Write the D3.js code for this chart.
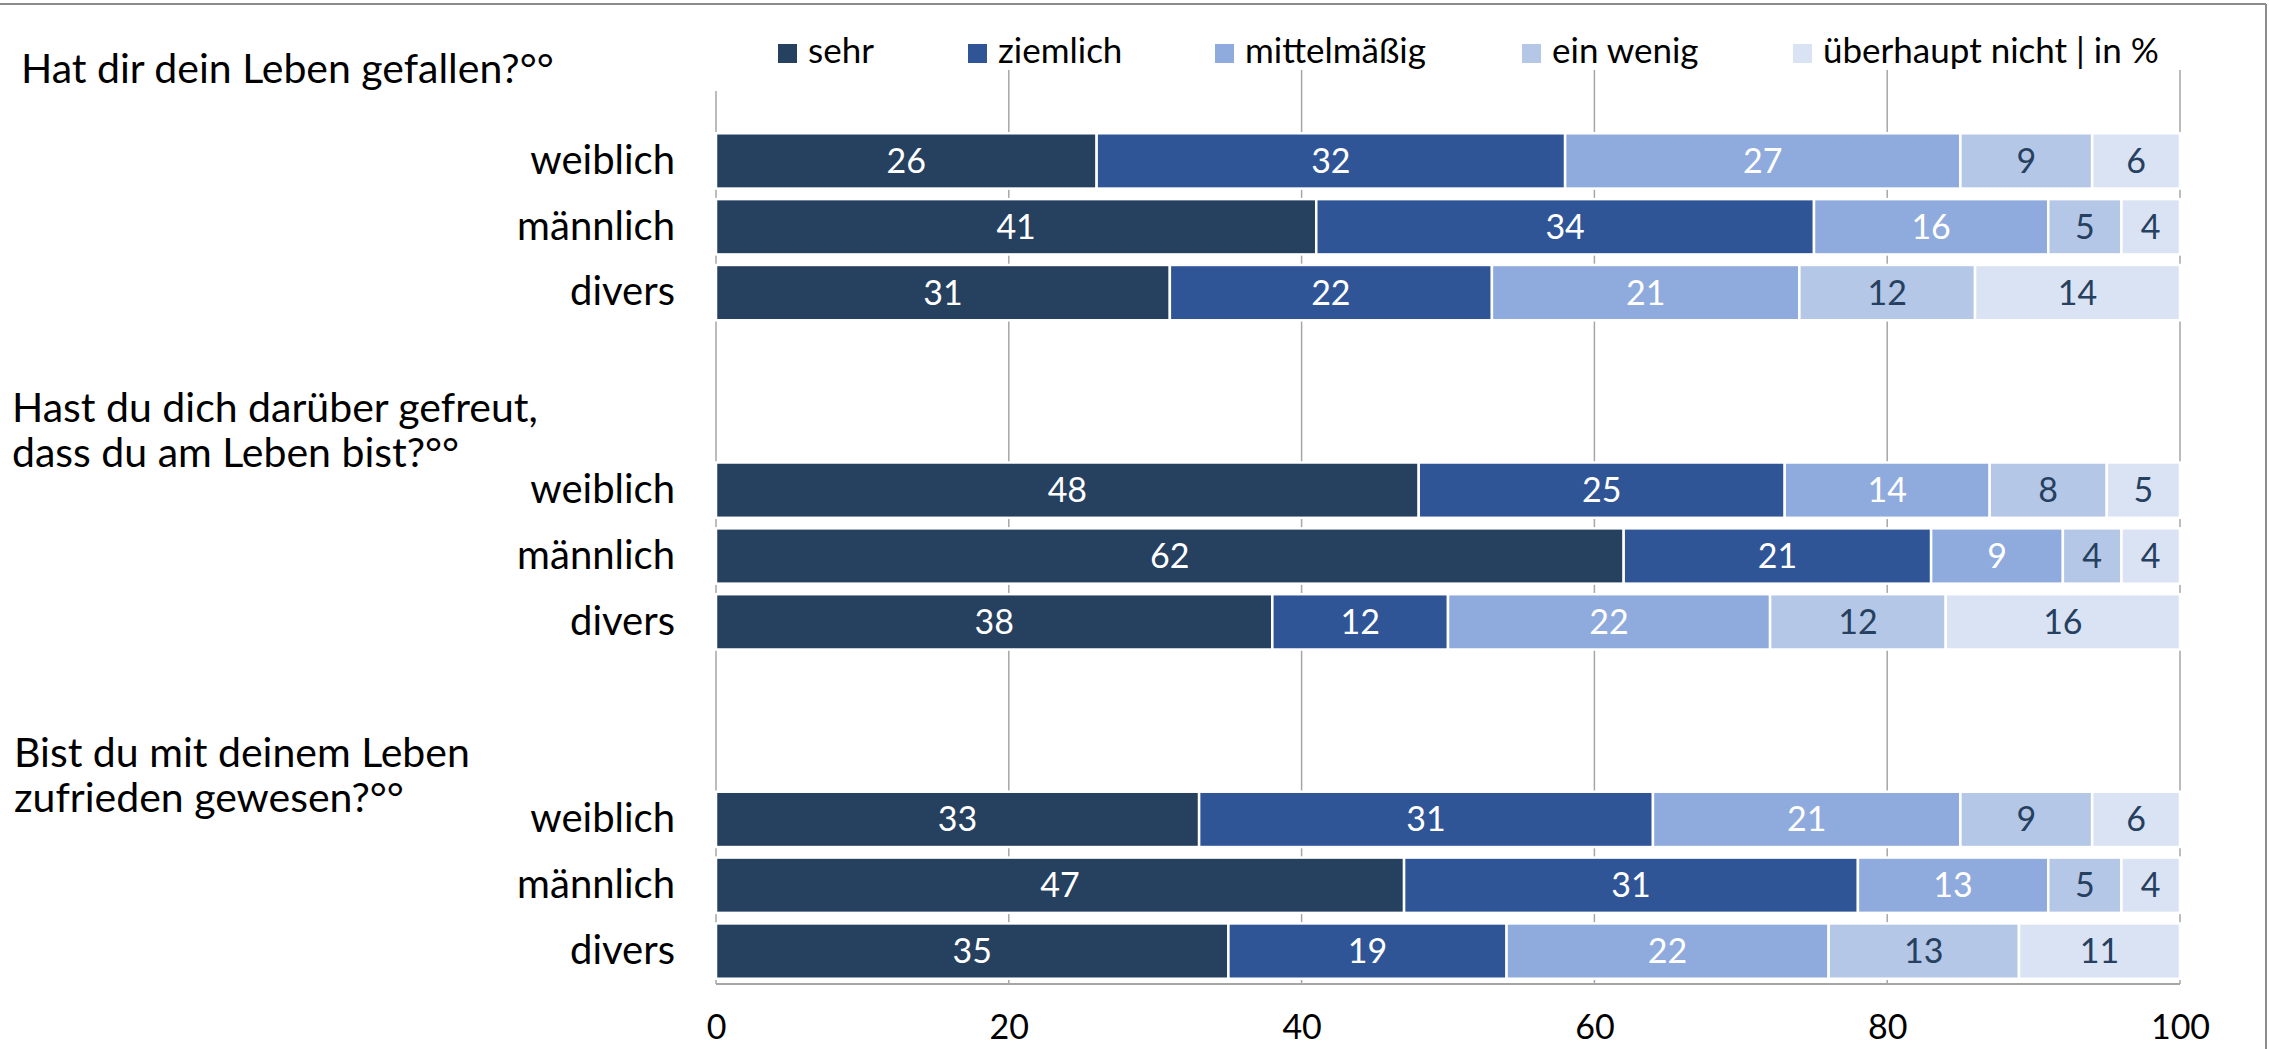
<!DOCTYPE html>
<html>
<head>
<meta charset="utf-8">
<script src="https://cdn.jsdelivr.net/npm/d3@7"></script>
<style>
  html, body { margin: 0; padding: 0; background: #ffffff; }
  svg { display: block; }
  text { font-family: Lato, "Open Sans", sans-serif; }
</style>
</head>
<body>
<svg id="chart" width="2269" height="1049"></svg>
<script>
// ---------- data ----------
const seriesNames = ["sehr", "ziemlich", "mittelmäßig", "ein wenig", "überhaupt nicht | in %"];
const seriesColors = ["#26405f", "#2f5597", "#8faadc", "#b4c7e7", "#dae3f3"];
const labelColors = ["#ffffff", "#ffffff", "#ffffff", "#26405f", "#26405f"];

// row slots (empty slots separate the question groups)
const rowKeys = ["q1w", "q1m", "q1d", "gap1", "gap2", "q2w", "q2m", "q2d", "gap3", "gap4", "q3w", "q3m", "q3d"];
const rowLabels = ["weiblich", "männlich", "divers", "", "", "weiblich", "männlich", "divers", "", "", "weiblich", "männlich", "divers"];

const sehr        = [26, 41, 31, null, null, 48, 62, 38, null, null, 33, 47, 35];
const ziemlich    = [32, 34, 22, null, null, 25, 21, 12, null, null, 31, 31, 19];
const mittelmaessig = [27, 16, 21, null, null, 14, 9, 22, null, null, 21, 13, 22];
const einWenig    = [9, 5, 12, null, null, 8, 4, 12, null, null, 9, 5, 13];
const ueberhauptNicht = [6, 4, 14, null, null, 5, 4, 16, null, null, 6, 4, 11];

const questions = [
  ["Hat dir dein Leben gefallen?°°"],
  ["Hast du dich darüber gefreut,", "dass du am Leben bist?°°"],
  ["Bist du mit deinem Leben", "zufrieden gewesen?°°"]
];
const xTicks = [0, 20, 40, 60, 80, 100];

// ---------- layout ----------
const svg = d3.select("#chart");
const W = 2269, H = 1049;

const x = d3.scaleLinear().domain([0, 100]).range([716, 2180]);
const y = d3.scaleBand().domain(rowKeys).range([128, 984]).paddingInner(0.16).paddingOuter(0.08);

// chart border
svg.append("line").attr("x1", 0).attr("x2", 2266).attr("y1", 4).attr("y2", 4)
  .attr("stroke", "#8c8c8c").attr("stroke-width", 2);
svg.append("line").attr("x1", 2266).attr("x2", 2266).attr("y1", 4).attr("y2", H)
  .attr("stroke", "#8c8c8c").attr("stroke-width", 2);

// gridlines
svg.append("g").selectAll("line").data(xTicks.filter(d => d > 0)).join("line")
  .attr("x1", d => x(d)).attr("x2", d => x(d))
  .attr("y1", 70).attr("y2", 984)
  .attr("stroke", "#a6a6a6").attr("stroke-width", 1.5);

// left axis line
svg.append("line").attr("x1", x(0)).attr("x2", x(0)).attr("y1", 91).attr("y2", 984)
  .attr("stroke", "#a6a6a6").attr("stroke-width", 1.5);

// stacked data
const table = rowKeys.map((k, i) => ({
  key: k,
  "sehr": sehr[i], "ziemlich": ziemlich[i], "mittelmäßig": mittelmaessig[i],
  "ein wenig": einWenig[i], "überhaupt nicht | in %": ueberhauptNicht[i]
})).filter(d => d.sehr !== null);

const stack = d3.stack().keys(seriesNames)(table);

const layers = svg.append("g").selectAll("g").data(stack).join("g")
  .attr("fill", (d, i) => seriesColors[i]);

layers.selectAll("rect").data(d => d).join("rect")
  .attr("x", d => x(d[0]))
  .attr("width", d => x(d[1]) - x(d[0]))
  .attr("y", d => y(d.data.key))
  .attr("height", y.bandwidth())
  .attr("stroke", "#ffffff").attr("stroke-width", 2.5);

// value labels
svg.append("g").selectAll("g").data(stack).join("g")
  .attr("fill", (d, i) => labelColors[i])
  .selectAll("text").data(d => d).join("text")
  .attr("x", d => (x(d[0]) + x(d[1])) / 2)
  .attr("y", d => y(d.data.key) + y.bandwidth() / 2)
  .attr("dy", "0.35em")
  .attr("text-anchor", "middle")
  .attr("font-size", 34)
  .text(d => d[1] - d[0]);

// bottom axis line
svg.append("line").attr("x1", x(0)).attr("x2", x(100)).attr("y1", 984).attr("y2", 984)
  .attr("stroke", "#a6a6a6").attr("stroke-width", 2);

// x axis tick labels
const xAxis = svg.append("g").attr("transform", "translate(0,984)")
  .call(d3.axisBottom(x).tickValues(xTicks).tickSize(0).tickPadding(0).tickFormat(d3.format("d")));
xAxis.select(".domain").remove();
xAxis.selectAll("text").attr("y", 43).attr("dy", "0.35em")
  .attr("font-size", 34).attr("fill", "#000000")
  .style("font-family", "Lato, 'Open Sans', sans-serif");

// y axis category labels
const labelByKey = new Map(rowKeys.map((k, i) => [k, rowLabels[i]]));
const yAxis = svg.append("g").attr("transform", `translate(${x(0)},0)`)
  .call(d3.axisLeft(y).tickSize(0).tickPadding(41).tickFormat(k => labelByKey.get(k)));
yAxis.select(".domain").remove();
yAxis.selectAll("text").attr("font-size", 40).attr("fill", "#000000")
  .style("font-family", "Lato, 'Open Sans', sans-serif");

// question labels
const qPos = [
  { x: 21, y: 83 },
  { x: 12, y: 422 },
  { x: 14, y: 767 }
];
const lineH = 45;
questions.forEach((lines, qi) => {
  const t = svg.append("text")
    .attr("x", qPos[qi].x).attr("y", qPos[qi].y)
    .attr("font-size", 41).attr("fill", "#000000");
  lines.forEach((ln, li) => {
    t.append("tspan").attr("x", qPos[qi].x).attr("dy", li === 0 ? 0 : lineH).text(ln);
  });
});

// legend
const legendX = [778, 968, 1215, 1522, 1793];
const lg = svg.append("g").selectAll("g").data(seriesNames).join("g")
  .attr("transform", (d, i) => `translate(${legendX[i]},0)`);
lg.append("rect").attr("x", 0).attr("y", 44).attr("width", 19).attr("height", 19)
  .attr("fill", (d, i) => seriesColors[i]);
lg.append("text").attr("x", 30).attr("y", 63)
  .attr("font-size", 35).attr("fill", "#000000")
  .text(d => d);
</script>
</body>
</html>
